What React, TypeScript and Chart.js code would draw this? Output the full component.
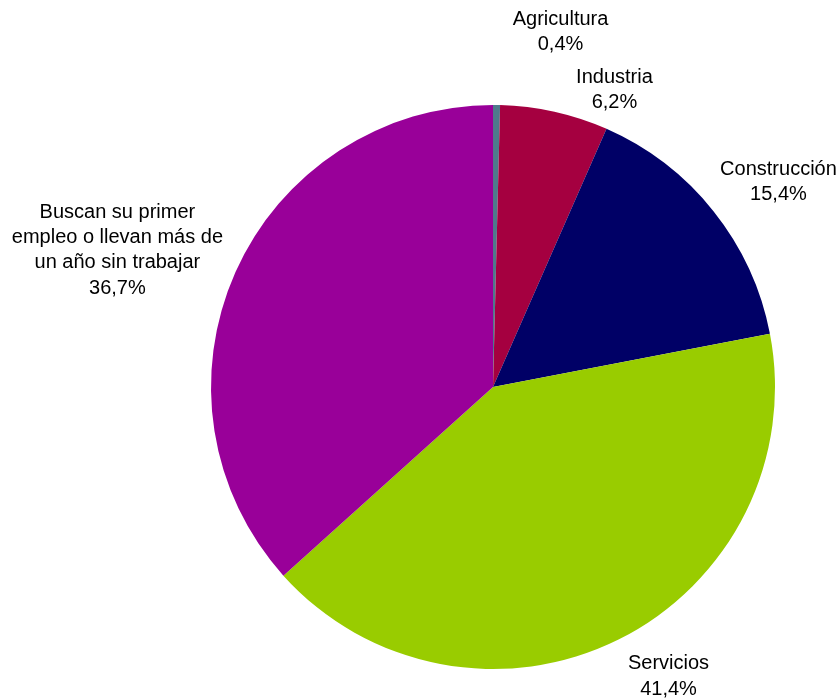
import React, { useEffect, useRef } from "react";
import { Chart, registerables } from "chart.js";

Chart.register(...registerables);

const categories = [
  "Agricultura",
  "Industria",
  "Construcción",
  "Servicios",
  "Buscan su primer empleo o llevan más de un año sin trabajar",
];
const values = [0.4, 6.2, 15.4, 41.4, 36.7];
const valueLabels = ["0,4%", "6,2%", "15,4%", "41,4%", "36,7%"];
const labelLines = [
  ["Agricultura"],
  ["Industria"],
  ["Construcción"],
  ["Servicios"],
  ["Buscan su primer", "empleo o llevan más de", "un año sin trabajar"],
];
const colors = ["#4E7A8C", "#A50040", "#000066", "#99CC00", "#990099"];
// label offsets from the slice's outer mid-point (dx, dy)
const labelOffsets = [
  [64, -73],
  [60, -22],
  [65, -29],
  [50, 37],
  [-118, -22],
];

const labelPlugin = {
  id: "sliceLabels",
  afterDraw(chart: any) {
    const ctx = chart.ctx;
    const meta = chart.getDatasetMeta(0);
    ctx.save();
    ctx.font = '20px "Liberation Sans", Arial, sans-serif';
    ctx.fillStyle = "#000000";
    ctx.textAlign = "center";
    ctx.textBaseline = "middle";
    const lh = 25.3;
    meta.data.forEach((arc: any, i: number) => {
      const p = arc.getProps(["x", "y", "startAngle", "endAngle", "outerRadius"], true);
      const mid = (p.startAngle + p.endAngle) / 2;
      const ax = p.x + Math.cos(mid) * p.outerRadius;
      const ay = p.y + Math.sin(mid) * p.outerRadius;
      const lines = [...labelLines[i], valueLabels[i]];
      const cx = ax + labelOffsets[i][0];
      const cy = ay + labelOffsets[i][1];
      const top = cy - ((lines.length - 1) * lh) / 2;
      lines.forEach((t, k) => ctx.fillText(t, cx, top + k * lh));
    });
    ctx.restore();
  },
};

export default function App() {
  const ref = useRef<HTMLCanvasElement>(null);
  useEffect(() => {
    if (!ref.current) return;
    const chart = new Chart(ref.current, {
      type: "pie",
      data: {
        labels: categories,
        datasets: [
          {
            data: values,
            backgroundColor: colors,
            borderWidth: 0,
          },
        ],
      },
      options: {
        responsive: false,
        animation: false,
        layout: { padding: { left: 211, right: 65, top: 105, bottom: 30 } },
        plugins: {
          legend: { display: false },
          tooltip: { enabled: false },
        },
      },
      plugins: [labelPlugin],
    });
    return () => chart.destroy();
  }, []);
  return (
    <div style={{ position: "fixed", left: 0, top: 0, width: 840, height: 699, background: "#fff" }}>
      <canvas ref={ref} width={840} height={699} />
    </div>
  );
}
